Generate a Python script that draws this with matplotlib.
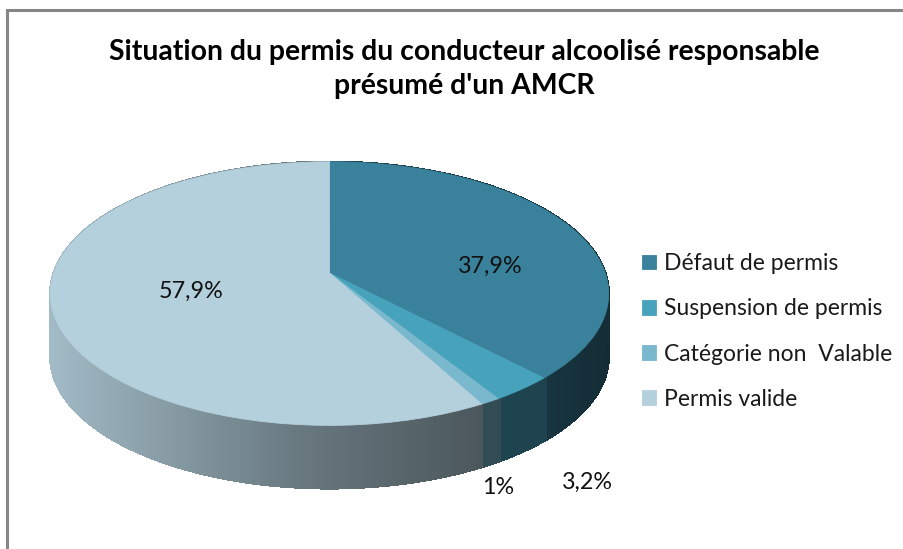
import numpy as np
import matplotlib
matplotlib.use("Agg")
import matplotlib.pyplot as plt
from matplotlib.transforms import Transform
from matplotlib.collections import PolyCollection

categories = ["Défaut de permis", "Suspension de permis", "Catégorie non  Valable", "Permis valide"]
values = [37.9, 3.2, 1.0, 57.9]
value_labels = ["37,9%", "3,2%", "1%", "57,9%"]
colors = ["#3a829c", "#47a2bb", "#7ab8ce", "#b4d0dc"]
title = "Situation du permis du conducteur alcoolisé responsable\nprésumé d'un AMCR"

CX, CY, R, B, K, DEPTH = 329.5, 273.0, 275.8, 128.6, 0.156, 63.0


class Tilt(Transform):
    """Perspective view of the flat unit pie, in figure pixels."""
    input_dims = output_dims = 2
    is_affine = False

    def transform_non_affine(self, values):
        v = np.asarray(values, float)
        w = 1 + K * v[:, 1]
        return np.column_stack([CX + R * v[:, 0] / w, CY - B * v[:, 1] / w])

    def inverted(self):
        raise NotImplementedError


fig = plt.figure(figsize=(9.04, 5.49), dpi=100)
ax = fig.add_axes([0, 0, 1, 1])
wedges, _ = ax.pie(values, colors=colors, startangle=90, counterclock=False,
                   wedgeprops=dict(linewidth=0.6, zorder=3))
ax.set_aspect("auto")
ax.set_xlim(0, 904)
ax.set_ylim(549, 0)
ax.axis("off")
tilt = Tilt()
for w in wedges:
    w.set_transform(tilt + ax.transData)
    w.set_edgecolor(w.get_facecolor())

shade_x = [50, 300, 480, 540, 610]
shade_f = [0.90, 0.58, 0.42, 0.42, 0.34]
for w in wedges:
    base = np.array(matplotlib.colors.to_rgb(w.get_facecolor()))
    th = np.radians(np.arange(w.theta1, w.theta2 + 0.5, 0.5))
    pts = tilt.transform(np.column_stack([np.cos(th), np.sin(th)]))
    polys, cols = [], []
    for a, b in zip(pts[:-1], pts[1:]):
        polys.append([a, b, b + [0, DEPTH], a + [0, DEPTH]])
        cols.append(base * np.interp((a[0] + b[0]) / 2, shade_x, shade_f))
    ax.add_collection(PolyCollection(polys, facecolors=cols, edgecolors=cols,
                                     linewidths=1.0, antialiaseds=False, zorder=2))

font = "Lato"
ax.plot([7.5, 7.5, 904], [549, 10, 10], color="#868686", lw=2.2, zorder=1,
        solid_joinstyle="miter")
ax.text(464, 69, title, ha="center", va="center", fontsize=20.4, fontweight="bold",
        family=font, color="#000000", linespacing=1.37)

label_pos = [(490, 266), (587, 482), (498, 488), (191, 291)]
for s, (x, y) in zip(value_labels, label_pos):
    ax.text(x, y, s, ha="center", va="center", fontsize=16.8, family=font, color="#111111", zorder=5)

ax.legend(wedges, categories, loc="upper left", bbox_to_anchor=(642 / 904, 1 - 253 / 549),
          frameon=False, handlelength=0.62, handleheight=0.62, handletextpad=0.35,
          labelspacing=1.06, borderaxespad=0, borderpad=0,
          prop=dict(family=font, size=16.5), labelcolor="#1a1a1a")

fig.savefig("out.png", dpi=100, facecolor="white")
